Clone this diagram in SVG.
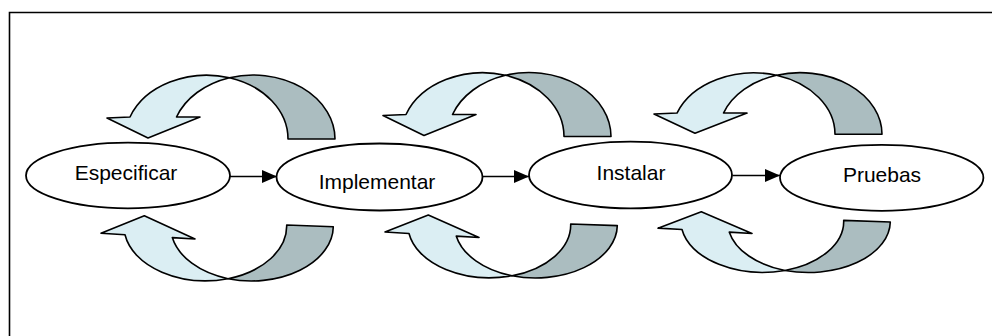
<svg xmlns="http://www.w3.org/2000/svg" xmlns:xlink="http://www.w3.org/1999/xlink" width="992" height="336" viewBox="0 0 992 336">
<style>
.frame{fill:none;stroke:#000;stroke-width:1.6}
.node ellipse{fill:#fff;stroke:#000;stroke-width:1.8}
.node text{font-family:"Liberation Sans",Arial,sans-serif;font-size:21px;fill:#000;text-anchor:middle}
.light{fill:#DBEEF3;stroke:#000;stroke-width:1.6;stroke-linejoin:round;vector-effect:non-scaling-stroke}
.dark{fill:#ABBDC0;stroke:#000;stroke-width:1.6;stroke-linejoin:round;vector-effect:non-scaling-stroke}
.conn{stroke:#000;stroke-width:1.6;fill:none}
</style>
<defs>
<marker id="ah" markerUnits="userSpaceOnUse" markerWidth="16" markerHeight="14" refX="15" refY="6.5" orient="auto">
<path d="M0,0 L15,6.5 L0,13 Z" fill="#000"/>
</marker>
<g id="topArrow">
<path class="light" d="M130,117 L107,118 L148,138 L200,117 L176.5,117 A82,64 0 0 1 229.5,77.7 A82,64 0 0 0 130,117 Z"/>
<path class="dark" d="M229.5,77.7 A82,64 0 0 1 335,139 L288,139 A82,64 0 0 0 229.5,77.7 Z"/>
</g>
<g id="botArrow">
<path class="light" d="M125,234.8 L101,233.3 L144.3,215.7 L195,239 L172.3,237.6 A82,55 0 0 0 228,278.7 A82,55 0 0 1 125,234.8 Z"/>
<path class="dark" d="M228,278.7 A82,55 0 0 0 333.3,226.7 L286.7,225 A82,55 0 0 1 228,278.7 Z"/>
</g>
</defs>
<path class="frame" d="M9.5,336 V12.5 H992"/>
<g id="cycles">
<use xlink:href="#topArrow"/>
<use xlink:href="#topArrow" transform="translate(276 -2.5)"/>
<use xlink:href="#topArrow" transform="translate(547 0.5) scale(1 0.962)"/>
<use xlink:href="#botArrow"/>
<use xlink:href="#botArrow" transform="translate(284 7.1) scale(1 0.964)"/>
<use xlink:href="#botArrow" transform="translate(557 10.7) scale(1 0.932)"/>
</g>
<g id="connectors">
<line class="conn" x1="230" y1="176.5" x2="277" y2="176.5" marker-end="url(#ah)"/>
<line class="conn" x1="482.5" y1="176.5" x2="529" y2="176.5" marker-end="url(#ah)"/>
<line class="conn" x1="732.5" y1="175.5" x2="780" y2="175.5" marker-end="url(#ah)"/>
</g>
<g id="especificar" class="node">
<ellipse cx="128" cy="175.5" rx="102" ry="32.8"/>
<text x="126" y="180">Especificar</text>
</g>
<g id="implementar" class="node">
<ellipse cx="379.5" cy="177" rx="103" ry="33.5"/>
<text x="377" y="188.5">Implementar</text>
</g>
<g id="instalar" class="node">
<ellipse cx="630.5" cy="175" rx="101.5" ry="33.3"/>
<text x="631" y="179.5">Instalar</text>
</g>
<g id="pruebas" class="node">
<ellipse cx="881.7" cy="177.8" rx="101.7" ry="33"/>
<text x="882" y="181.7">Pruebas</text>
</g>
</svg>
